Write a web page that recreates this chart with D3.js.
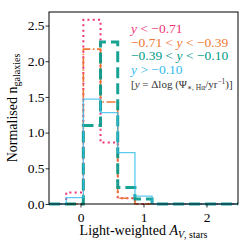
<!DOCTYPE html>
<html lang="en">
  <head>
    <meta charset="UTF-8" />
    <title>Light-weighted A_V histogram</title>
    <script src="https://d3js.org/d3.v7.min.js"></script>
    <style>
      body { margin: 0; background: #fff; }
      text { font-family: "Liberation Serif", "DejaVu Serif", serif; }
    </style>
  </head>
  <body>
    <div id="chart"></div>

    <script>
      // bin edges of the histograms
      const binEdges = [-0.5, -0.227, 0.045, 0.318, 0.591, 0.864, 1.136, 1.409, 1.682, 1.955, 2.227, 2.5];

      // normalised counts per bin, one list per SFR-offset group
      const lowValues = [0, 0.16, 2.58, 0.86, 0.08, 0, 0, 0, 0, 0, 0];
      const midLowValues = [0, 0, 2.17, 1.43, 0.08, 0, 0, 0, 0, 0, 0];
      const midHighValues = [0, 0, 1.1, 2.27, 0.23, 0.07, 0, 0, 0, 0, 0];
      const highValues = [0, 0.09, 1.47, 1.28, 0.72, 0.11, 0, 0, 0, 0, 0];

      const xTicks = [0, 1, 2];
      const yTicks = [0, 0.5, 1, 1.5, 2, 2.5];

      const series = [
        { values: lowValues, color: "#ee3377", width: 2, dash: "2,3.3", opacity: 1 },
        { values: midLowValues, color: "#ee7733", width: 1.6, dash: "9,2.5,1.6,2.5", opacity: 1 },
        { values: midHighValues, color: "#009988", width: 3, dash: "11,5", opacity: 0.9 },
        { values: highValues, color: "#33bbee", width: 1.3, dash: null, opacity: 0.8 },
      ];

      const margin = { top: 12, right: 11, bottom: 45, left: 49 },
        W = 249,
        H = 249,
        width = W - margin.left - margin.right,
        height = H - margin.top - margin.bottom;

      const svg = d3
        .select("#chart")
        .append("svg")
        .attr("width", W)
        .attr("height", H);

      const g = svg
        .append("g")
        .attr("transform", `translate(${margin.left},${margin.top})`);

      const x = d3.scaleLinear().domain([-0.5, 2.5]).range([0, width]);
      const y = d3.scaleLinear().domain([0, 2.69]).range([height, 0]);

      // step outlines like histtype="step"
      function stepPoints(values) {
        const pts = [[binEdges[0], 0]];
        values.forEach((v, i) => {
          pts.push([binEdges[i], v]);
          pts.push([binEdges[i + 1], v]);
        });
        pts.push([binEdges[binEdges.length - 1], 0]);
        return pts;
      }

      const line = d3
        .line()
        .x((d) => x(d[0]))
        .y((d) => y(d[1]));

      g.append("g")
        .selectAll("path")
        .data(series)
        .join("path")
        .attr("d", (d) => line(stepPoints(d.values)))
        .attr("fill", "none")
        .attr("stroke", (d) => d.color)
        .attr("stroke-width", (d) => d.width)
        .attr("stroke-dasharray", (d) => d.dash)
        .attr("stroke-opacity", (d) => d.opacity)
        .attr("stroke-linejoin", "miter");

      // axes
      const xAxis = g
        .append("g")
        .attr("transform", `translate(0,${height})`)
        .call(d3.axisBottom(x).tickValues(xTicks).tickFormat(d3.format("d")).tickSizeOuter(0).tickSize(3.5));
      const yAxis = g
        .append("g")
        .call(d3.axisLeft(y).tickValues(yTicks).tickFormat(d3.format(".1f")).tickSizeOuter(0).tickSize(3.5));

      [xAxis, yAxis].forEach((a) => {
        a.select(".domain").remove();
        a.selectAll("line").attr("stroke", "#000").attr("stroke-width", 0.8);
        a.selectAll("text")
          .attr("fill", "#000")
          .style("font-size", "13.5px")
          .style("font-family", "'Liberation Serif', serif");
      });
      xAxis.selectAll("text").attr("dy", "1em").attr("y", 4);
      yAxis.selectAll("text").attr("x", -4.5);

      // frame
      g.append("rect")
        .attr("width", width)
        .attr("height", height)
        .attr("fill", "none")
        .attr("stroke", "#000")
        .attr("stroke-width", 1);

      // axis labels
      const xl = svg
        .append("text")
        .attr("x", margin.left + width / 2)
        .attr("y", 235)
        .attr("text-anchor", "middle")
        .style("font-size", "14px");
      xl.append("tspan").text("Light-weighted ");
      xl.append("tspan").attr("font-style", "italic").text("A");
      xl.append("tspan")
        .attr("font-style", "italic")
        .attr("font-size", "10px")
        .attr("dy", 3)
        .text("V");
      xl.append("tspan").attr("font-size", "10px").text(", stars");

      const yl = svg
        .append("text")
        .attr("transform", `translate(17,${margin.top + height / 2}) rotate(-90)`)
        .attr("text-anchor", "middle")
        .style("font-size", "14px");
      yl.append("tspan").text("Normalised n");
      yl.append("tspan").attr("font-size", "10px").attr("dy", 2.5).text("galaxies");

      // legend
      const legend = svg.append("g").attr("transform", "translate(131,0)");
      const rows = [
        { color: "#ee3377", parts: [["y", true], [" < −0.71", false]] },
        { color: "#ee7733", parts: [["−0.71 < ", false], ["y", true], [" < −0.39", false]] },
        { color: "#009988", parts: [["−0.39 < ", false], ["y", true], [" < −0.10", false]] },
        { color: "#33bbee", parts: [["y", true], [" > −0.10", false]] },
      ];
      const rowY = [33, 46.7, 60.3, 74];
      rows.forEach((r, i) => {
        const t = legend
          .append("text")
          .attr("y", rowY[i])
          .attr("fill", r.color)
          .style("font-size", "13.5px");
        r.parts.forEach((p) => {
          t.append("tspan").attr("font-style", p[1] ? "italic" : null).text(p[0]);
        });
      });
      const note = legend
        .append("text")
        .attr("y", 87.5)
        .attr("fill", "#333")
        .style("font-size", "11px");
      note.append("tspan").text("[");
      note.append("tspan").attr("font-style", "italic").text("y");
      note.append("tspan").text(" = Δlog (Ψ");
      note.append("tspan").attr("font-size", "7.5px").attr("dy", 2).text("∗, Hα");
      note.append("tspan").attr("dy", -2).text("/yr");
      note.append("tspan").attr("font-size", "7.5px").attr("dy", -4).text("−1");
      note.append("tspan").attr("dy", 4).text(")]");
    </script>
  </body>
</html>
